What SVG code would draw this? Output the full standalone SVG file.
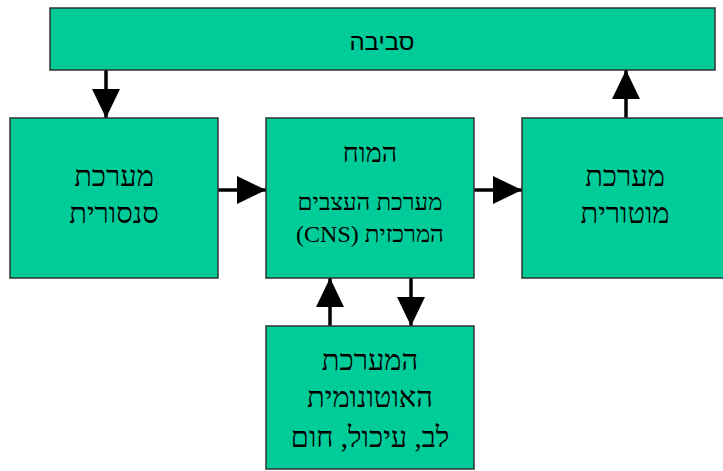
<svg xmlns="http://www.w3.org/2000/svg" width="723" height="471" viewBox="0 0 723 471">
<defs>
<style>
.box{fill:#00CC99;stroke:#333333;stroke-width:1.5}
.t{font-family:"Liberation Serif","DejaVu Serif",serif;fill:#000;text-anchor:middle}
.s{font-family:"Liberation Sans","DejaVu Sans",sans-serif;fill:#000;text-anchor:middle}
.c{stroke:#000;stroke-width:3.5;fill:none;marker-end:url(#ah)}
</style>
<marker id="ah" markerUnits="userSpaceOnUse" markerWidth="29" markerHeight="28" refX="29" refY="14" orient="auto" viewBox="0 0 29 28">
<path d="M0,0 L29,14 L0,28 z" fill="#000"/>
</marker>
</defs>
<rect width="723" height="471" fill="#fff"/>
<g id="connectors">
<line class="c" x1="106" y1="70" x2="106" y2="118"/>
<line class="c" x1="626" y1="118" x2="626" y2="70"/>
<line class="c" x1="218" y1="190" x2="266" y2="190"/>
<line class="c" x1="474" y1="190" x2="522" y2="190"/>
<line class="c" x1="330" y1="326" x2="330" y2="278"/>
<line class="c" x1="411" y1="278" x2="411" y2="326"/>
</g>
<g id="environment">
<rect class="box" x="50" y="8" width="665" height="62"/>
<text class="s" x="382" y="50" font-size="24" direction="rtl">סביבה</text>
</g>
<g id="sensory">
<rect class="box" x="10" y="118" width="208" height="160"/>
<text class="t" x="114" y="186" font-size="29" direction="rtl">מערכת</text>
<text class="t" x="114" y="223" font-size="29" direction="rtl">סנסורית</text>
</g>
<g id="cns">
<rect class="box" x="266" y="118" width="208" height="160"/>
<text class="t" x="370" y="162" font-size="27" direction="rtl">המוח</text>
<text class="t" x="370" y="210" font-size="24" direction="rtl">מערכת העצבים</text>
<text class="t" x="370" y="242" font-size="24" direction="rtl">המרכזית (CNS)</text>
</g>
<g id="motor">
<rect class="box" x="522" y="118" width="210" height="160"/>
<text class="t" x="625" y="186" font-size="29" direction="rtl">מערכת</text>
<text class="t" x="625" y="223" font-size="29" direction="rtl">מוטורית</text>
</g>
<g id="autonomic">
<rect class="box" x="266" y="326" width="208" height="143"/>
<text class="t" x="370" y="370" font-size="29" direction="rtl">המערכת</text>
<text class="t" x="370" y="407" font-size="29" direction="rtl">האוטונומית</text>
<text class="t" x="370" y="447" font-size="29" direction="rtl">לב, עיכול, חום</text>
</g>
</svg>
